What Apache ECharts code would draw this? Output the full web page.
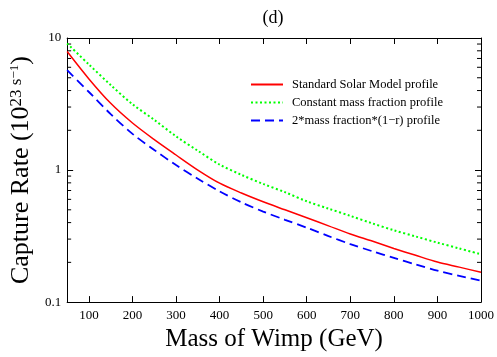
<!DOCTYPE html>
<html><head><meta charset="utf-8">
<script src="https://cdn.jsdelivr.net/npm/echarts@6/dist/echarts.min.js"></script>
<style>html,body{margin:0;padding:0;background:#fff}#c{width:497px;height:357px}</style>
</head><body><div id="c"></div>
<script>
var masses = [50,100,150,200,250,300,350,400,450,500,550,600,650,700,750,800,850,900,950,1000];
var ssm = [7.9,4.9,3.2,2.27,1.70,1.30,1.0,0.795,0.67,0.575,0.50,0.435,0.378,0.328,0.29,0.255,0.226,0.201,0.184,0.168];
var constFrac = [9.1,6.3,4.4,3.15,2.4,1.8,1.4,1.1,0.92,0.785,0.68,0.58,0.51,0.45,0.395,0.35,0.314,0.282,0.255,0.23];
var linFrac = [5.7,3.9,2.65,1.88,1.42,1.09,0.86,0.69,0.57,0.485,0.42,0.366,0.316,0.275,0.243,0.216,0.193,0.173,0.158,0.145];
var xTicks = [100,200,300,400,500,600,700,800,900,1000];
var yMinorTicks = [0.2,0.3,0.4,0.5,0.6,0.7,0.8,0.9,2,3,4,5,6,7,8,9];
var names = ['Standard Solar Model profile','Constant mass fraction profile','2*mass fraction*(1\u2212r) profile'];

var F = 'Liberation Serif, Times New Roman, serif';
function pairs(ys){ return masses.map(function(m,i){return [m, ys[i]];}); }

var chart = echarts.init(document.getElementById('c'));
chart.setOption({
  animation:false,
  backgroundColor:'#fff',
  title:{text:'(d)', left:268, top:4, textAlign:'center', textStyle:{fontFamily:F, fontSize:18, fontWeight:'normal', color:'#000'}},
  grid:{left:55, top:38, right:15, bottom:54, containLabel:false},
  legend:{orient:'vertical', left:245, top:73, itemWidth:32, itemHeight:14, itemGap:5,
    itemStyle:{opacity:0},
    data:names, textStyle:{fontFamily:F, fontSize:12.5, color:'#000', padding:[0,0,0,4]}},
  xAxis:[{type:'value', min:50, max:1000, position:'bottom',
    axisLine:{lineStyle:{color:'#000', width:1}},
    axisTick:{inside:true, length:6, customValues:xTicks, lineStyle:{color:'#000'}},
    axisLabel:{customValues:xTicks, margin:7, fontFamily:F, fontSize:13, color:'#000', formatter:function(v){return String(v);}},
    splitLine:{show:false},
    name:'Mass of Wimp (GeV)', nameLocation:'middle', nameGap:23,
    nameTextStyle:{fontFamily:F, fontSize:25, color:'#000'}},
   {type:'value', min:50, max:1000, position:'top',
    axisLine:{lineStyle:{color:'#000', width:1}},
    axisTick:{inside:true, length:6, customValues:xTicks, lineStyle:{color:'#000'}},
    axisLabel:{show:false}, splitLine:{show:false}}],
  yAxis:[{type:'log', logBase:10, min:0.1, max:10, position:'left',
    axisLine:{show:true, lineStyle:{color:'#000', width:1}},
    axisTick:{inside:true, length:6, lineStyle:{color:'#000'}},
    axisLabel:{margin:6, fontFamily:F, fontSize:13, color:'#000', formatter:function(v){return String(Math.round(v*10)/10);}},
    splitLine:{show:false},
    name:'{a|Capture Rate (10}{s|23 s}{t|\u22121}{a|)}', nameLocation:'middle', nameGap:33, nameRotate:90,
    nameTextStyle:{rich:{
      a:{fontFamily:F, fontSize:26, color:'#000', verticalAlign:'bottom'},
      s:{fontFamily:F, fontSize:17, color:'#000', verticalAlign:'top'},
      t:{fontFamily:F, fontSize:13, color:'#000', verticalAlign:'top'}}}},
   {type:'log', logBase:10, min:0.1, max:10, position:'right',
    axisLine:{show:true, lineStyle:{color:'#000', width:1}},
    axisTick:{inside:true, length:6, lineStyle:{color:'#000'}},
    axisLabel:{show:false}, splitLine:{show:false}}],
  series:[
    {name:names[0], type:'line', data:pairs(ssm), symbol:'none', smooth:0.3, color:'#ff0000',
     lineStyle:{color:'#ff0000', width:1.5, type:'solid'}},
    {name:names[1], type:'line', data:pairs(constFrac), symbol:'none', smooth:0.3, color:'#00ff00',
     lineStyle:{color:'#00ff00', width:2, type:[2,2.5]}},
    {name:names[2], type:'line', data:pairs(linFrac), symbol:'none', smooth:0.3, color:'#0000ff',
     lineStyle:{color:'#0000ff', width:1.8, type:[9,5]}},
    {type:'custom', silent:true, clip:false, data:yMinorTicks.map(function(v){return [v];}),
     renderItem:function(params, api){
       var v = api.value(0);
       var L = api.coord([50, v]), R = api.coord([1000, v]);
       var st = {stroke:'#000', lineWidth:1};
       return {type:'group', children:[
         {type:'line', shape:{x1:L[0], y1:L[1], x2:L[0]+4, y2:L[1]}, style:st},
         {type:'line', shape:{x1:R[0], y1:R[1], x2:R[0]-4, y2:R[1]}, style:st}
       ]};
     }}
  ]
});
</script></body></html>
